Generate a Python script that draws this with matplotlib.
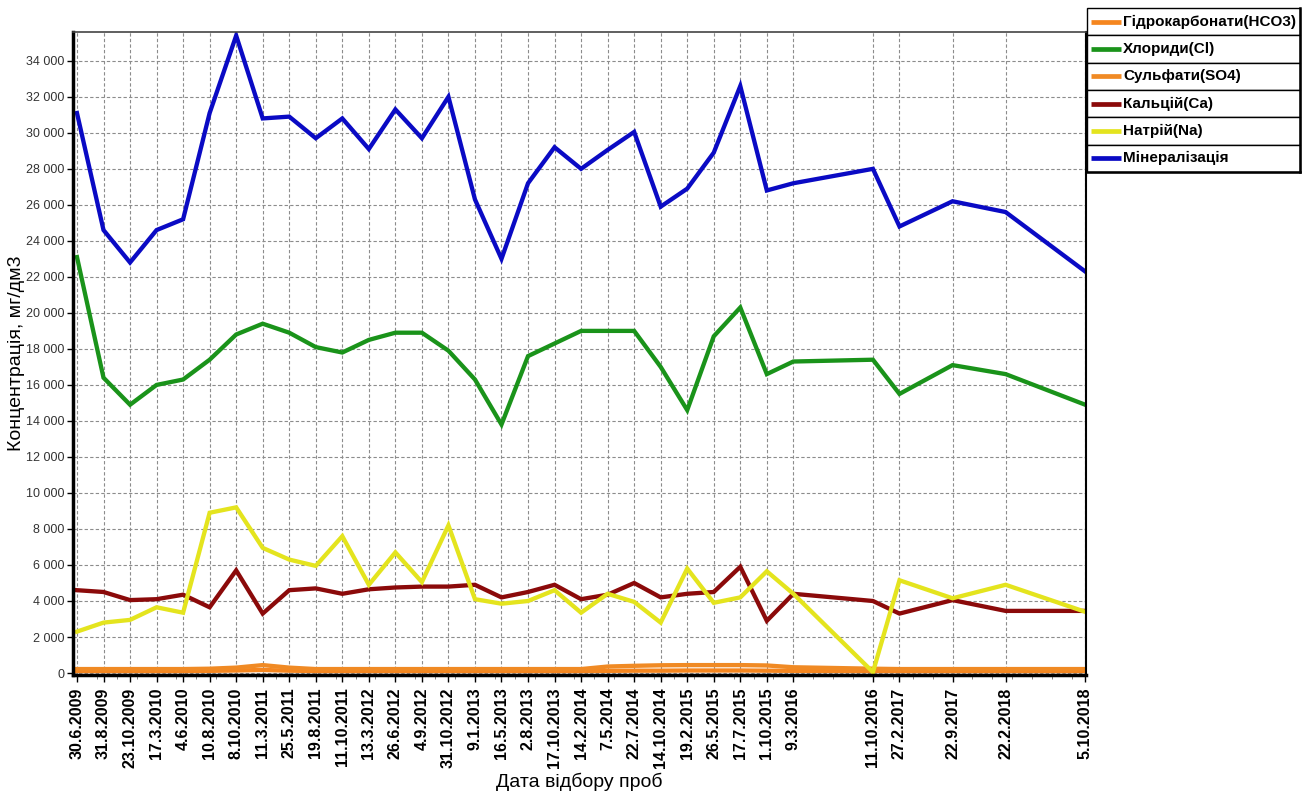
import matplotlib
matplotlib.use("Agg")
import matplotlib.pyplot as plt
from matplotlib.lines import Line2D
from matplotlib.patches import Rectangle
from matplotlib.ticker import FuncFormatter, FixedLocator, MultipleLocator

# sampling dates; empty slots are months without a sample
slots = ["30.6.2009", "31.8.2009", "23.10.2009", "17.3.2010", "4.6.2010",
         "10.8.2010", "8.10.2010", "11.3.2011", "25.5.2011", "19.8.2011",
         "11.10.2011", "13.3.2012", "26.6.2012", "4.9.2012", "31.10.2012",
         "9.1.2013", "16.5.2013", "2.8.2013", "17.10.2013", "14.2.2014",
         "7.5.2014", "22.7.2014", "14.10.2014", "19.2.2015", "26.5.2015",
         "17.7.2015", "1.10.2015", "9.3.2016", "", "",
         "11.10.2016", "27.2.2017", "", "22.9.2017", "",
         "22.2.2018", "", "", "5.10.2018"]

hco3 = [110, 110, 110, 110, 110, 120, 140, 170, 130, 110, 110, 110, 110,
        110, 110, 110, 110, 110, 110, 110, 120, 130, 130, 140, 140, 140,
        130, 120, 110, 110, 110, 110, 110]
cl = [23100, 16400, 14900, 16000, 16300, 17400, 18800, 19400, 18900, 18100,
      17800, 18500, 18900, 18900, 17900, 16300, 13800, 17600, 18300, 19000,
      19000, 19000, 17000, 14600, 18700, 20300, 16600, 17300, 17400, 15500,
      17100, 16600, 14900]
so4 = [220, 220, 220, 220, 220, 240, 300, 440, 300, 220, 220, 220, 220,
       220, 220, 220, 220, 220, 220, 220, 360, 400, 430, 440, 440, 440,
       420, 320, 240, 220, 220, 220, 220]
ca = [4600, 4500, 4050, 4100, 4350, 3650, 5700, 3300, 4600, 4700, 4400,
      4650, 4750, 4800, 4800, 4900, 4200, 4500, 4900, 4100, 4350, 5000,
      4200, 4400, 4500, 5900, 2900, 4400, 4000, 3300, 4050, 3450, 3450]
na = [2300, 2800, 2950, 3650, 3350, 8900, 9200, 6950, 6300, 5950, 7600,
      4900, 6700, 5050, 8200, 4100, 3850, 4000, 4600, 3350, 4400, 3950,
      2800, 5800, 3900, 4200, 5650, 4400, 50, 5150, 4150, 4900, 3400]
mineral = [31100, 24600, 22800, 24600, 25200, 31100, 35400, 30800, 30900,
           29700, 30800, 29100, 31300, 29700, 32000, 26300, 23000, 27200,
           29200, 28000, 29050, 30050, 25900, 26900, 28900, 32600, 26800,
           27200, 28000, 24800, 26200, 25600, 22300]

series = [
    ("Гідрокарбонати(HCO3)", hco3, "#f5861f"),
    ("Хлориди(Cl)", cl, "#1a931a"),
    ("Сульфати(SO4)", so4, "#f08a24"),
    ("Кальцій(Ca)", ca, "#8b0a0a"),
    ("Натрій(Na)", na, "#e4e41e"),
    ("Мінералізація", mineral, "#0a0ac4"),
]

FONT = ["Liberation Sans", "DejaVu Sans"]

W, H = 1315, 793
fig = plt.figure(figsize=(W / 100, H / 100), dpi=100)
ax = fig.add_axes([73 / W, 1 - 675 / H, (1086 - 73) / W, (675 - 32) / H])

xs = [i for i, s in enumerate(slots) if s]
for name, vals, color in series:
    ax.plot(xs, vals, color=color, lw=3.1, solid_joinstyle="miter", label=name)

ax.set_xlim(-0.15, 38.03)
ax.set_ylim(-110, 35600)

ax.xaxis.set_major_locator(FixedLocator(xs))
ax.set_xticklabels([slots[i] for i in xs], rotation=90, fontsize=11.5,
                   fontweight="bold", family=FONT)
ax.xaxis.set_minor_locator(MultipleLocator(0.75))
ax.yaxis.set_major_locator(MultipleLocator(2000))
ax.yaxis.set_major_formatter(FuncFormatter(lambda v, p: f"{v:,.0f}".replace(",", " ")))
for t in ax.get_yticklabels():
    t.set_family(FONT)
    t.set_fontsize(9)
    t.set_color("#333333")

ax.tick_params(axis="x", which="major", length=5, width=1, pad=4)
ax.tick_params(axis="x", which="minor", length=3, width=0.6, color="#666666")
ax.tick_params(axis="y", length=4, width=1, pad=2)

ax.grid(True, which="major", color="#8c8c8c", lw=0.8, ls=(0, (3, 2)))
ax.set_axisbelow(True)

ax.spines["left"].set_linewidth(2.5)
ax.spines["bottom"].set_linewidth(2.5)
ax.spines["top"].set_linewidth(1.2)
ax.spines["top"].set_color("#444444")
ax.spines["right"].set_linewidth(1.5)

ax.set_xlabel("Дата відбору проб", fontsize=14, family=FONT)
ax.xaxis.set_label_coords(0.5, -0.152)
ax.set_ylabel("Концентрація, мг/дм3", fontsize=14, family=FONT)
ax.yaxis.set_label_coords(-0.047, 0.5)

# legend table to the right of the plot
lx0, lx1, ly0 = 1087, 1300, 8
row_h = 27.3
for i, (name, vals, color) in enumerate(series):
    top = ly0 + i * row_h
    fig.add_artist(Rectangle((lx0 / W, 1 - (top + row_h) / H), (lx1 - lx0) / W, row_h / H,
                             transform=fig.transFigure, facecolor="white",
                             edgecolor="black", lw=1))
    yc = 1 - (top + row_h / 2) / H
    fig.add_artist(Line2D([1091 / W, 1121 / W], [yc, yc], transform=fig.transFigure,
                          color=color, lw=3.4, solid_capstyle="butt"))
    fig.text(1123 / W, yc, name, fontsize=11, fontweight="bold", va="center", ha="left",
             family=FONT)
# heavier right and bottom edges of the table
lb = ly0 + 6 * row_h
fig.add_artist(Line2D([lx1 / W, lx1 / W], [1 - ly0 / H, 1 - lb / H],
                      transform=fig.transFigure, color="black", lw=1.8))
fig.add_artist(Line2D([lx0 / W, lx1 / W], [1 - lb / H, 1 - lb / H],
                      transform=fig.transFigure, color="black", lw=1.8))

fig.savefig("out.png", dpi=100)
